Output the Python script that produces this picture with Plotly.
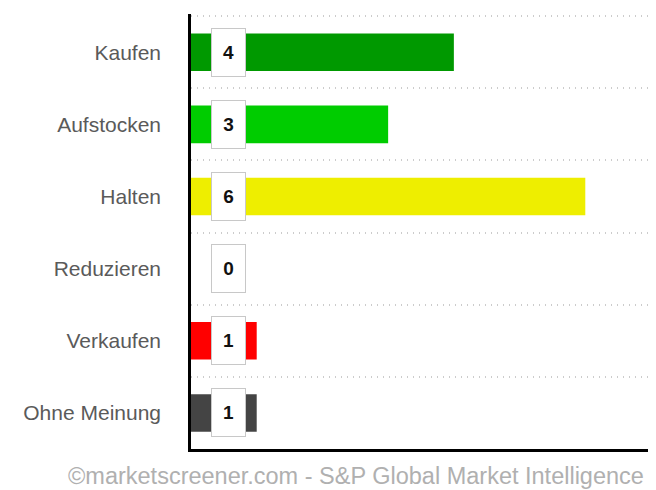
import plotly.graph_objects as go

# Analyst recommendations (count per category)
categories = ["Kaufen", "Aufstocken", "Halten", "Reduzieren", "Verkaufen", "Ohne Meinung"]
counts = [4, 3, 6, 0, 1, 1]
bar_colors = ["#009900", "#00cc00", "#eeee00", "#ff9900", "#ff0000", "#444444"]
footer = "©marketscreener.com - S&P Global Market Intelligence"

fig = go.Figure(go.Bar(
    x=counts,
    y=categories,
    orientation="h",
    marker_color=bar_colors,
    marker_line_width=0,
    width=0.52,
    hoverinfo="skip",
))

# value badges at the start of each bar
for cat, n in zip(categories, counts):
    fig.add_annotation(
        x=0, y=cat, xref="x", yref="y",
        text=f"<b>{n}</b>",
        showarrow=False,
        xanchor="center", yanchor="middle",
        xshift=37,
        width=31, height=45,
        bgcolor="white",
        bordercolor="#c8c8c8",
        borderwidth=1,
        borderpad=1,
        font=dict(family="Liberation Sans, Arial", size=19, color="#111111"),
    )

fig.add_annotation(
    x=0.99, y=-0.062, xref="paper", yref="paper",
    text=footer, showarrow=False,
    xanchor="right", yanchor="middle",
    font=dict(family="Liberation Sans, Arial", size=23.5, color="#b0b0b0"),
)

# page body has an 8px margin, so the figure is sized to fit inside it
fig.update_layout(
    width=648, height=482,
    paper_bgcolor="white",
    plot_bgcolor="white",
    showlegend=False,
    margin=dict(l=183, r=5, t=6, b=41, autoexpand=False),
    xaxis=dict(
        range=[0, 7.0],
        showticklabels=False,
        showgrid=False,
        zeroline=False,
        showline=True,
        linecolor="black",
        linewidth=2.5,
    ),
    yaxis=dict(
        categoryorder="array",
        categoryarray=categories,
        range=[5.5, -0.53],
        tickson="boundaries",
        ticks="",
        showgrid=True,
        gridcolor="#cccccc",
        griddash="1px,5px",
        gridwidth=1.5,
        showline=True,
        linecolor="black",
        linewidth=2.5,
        ticklabelstandoff=23,
        tickfont=dict(family="Liberation Sans, Arial", size=21, color="#5a5a5a"),
    ),
)

fig.write_html("out.html")
